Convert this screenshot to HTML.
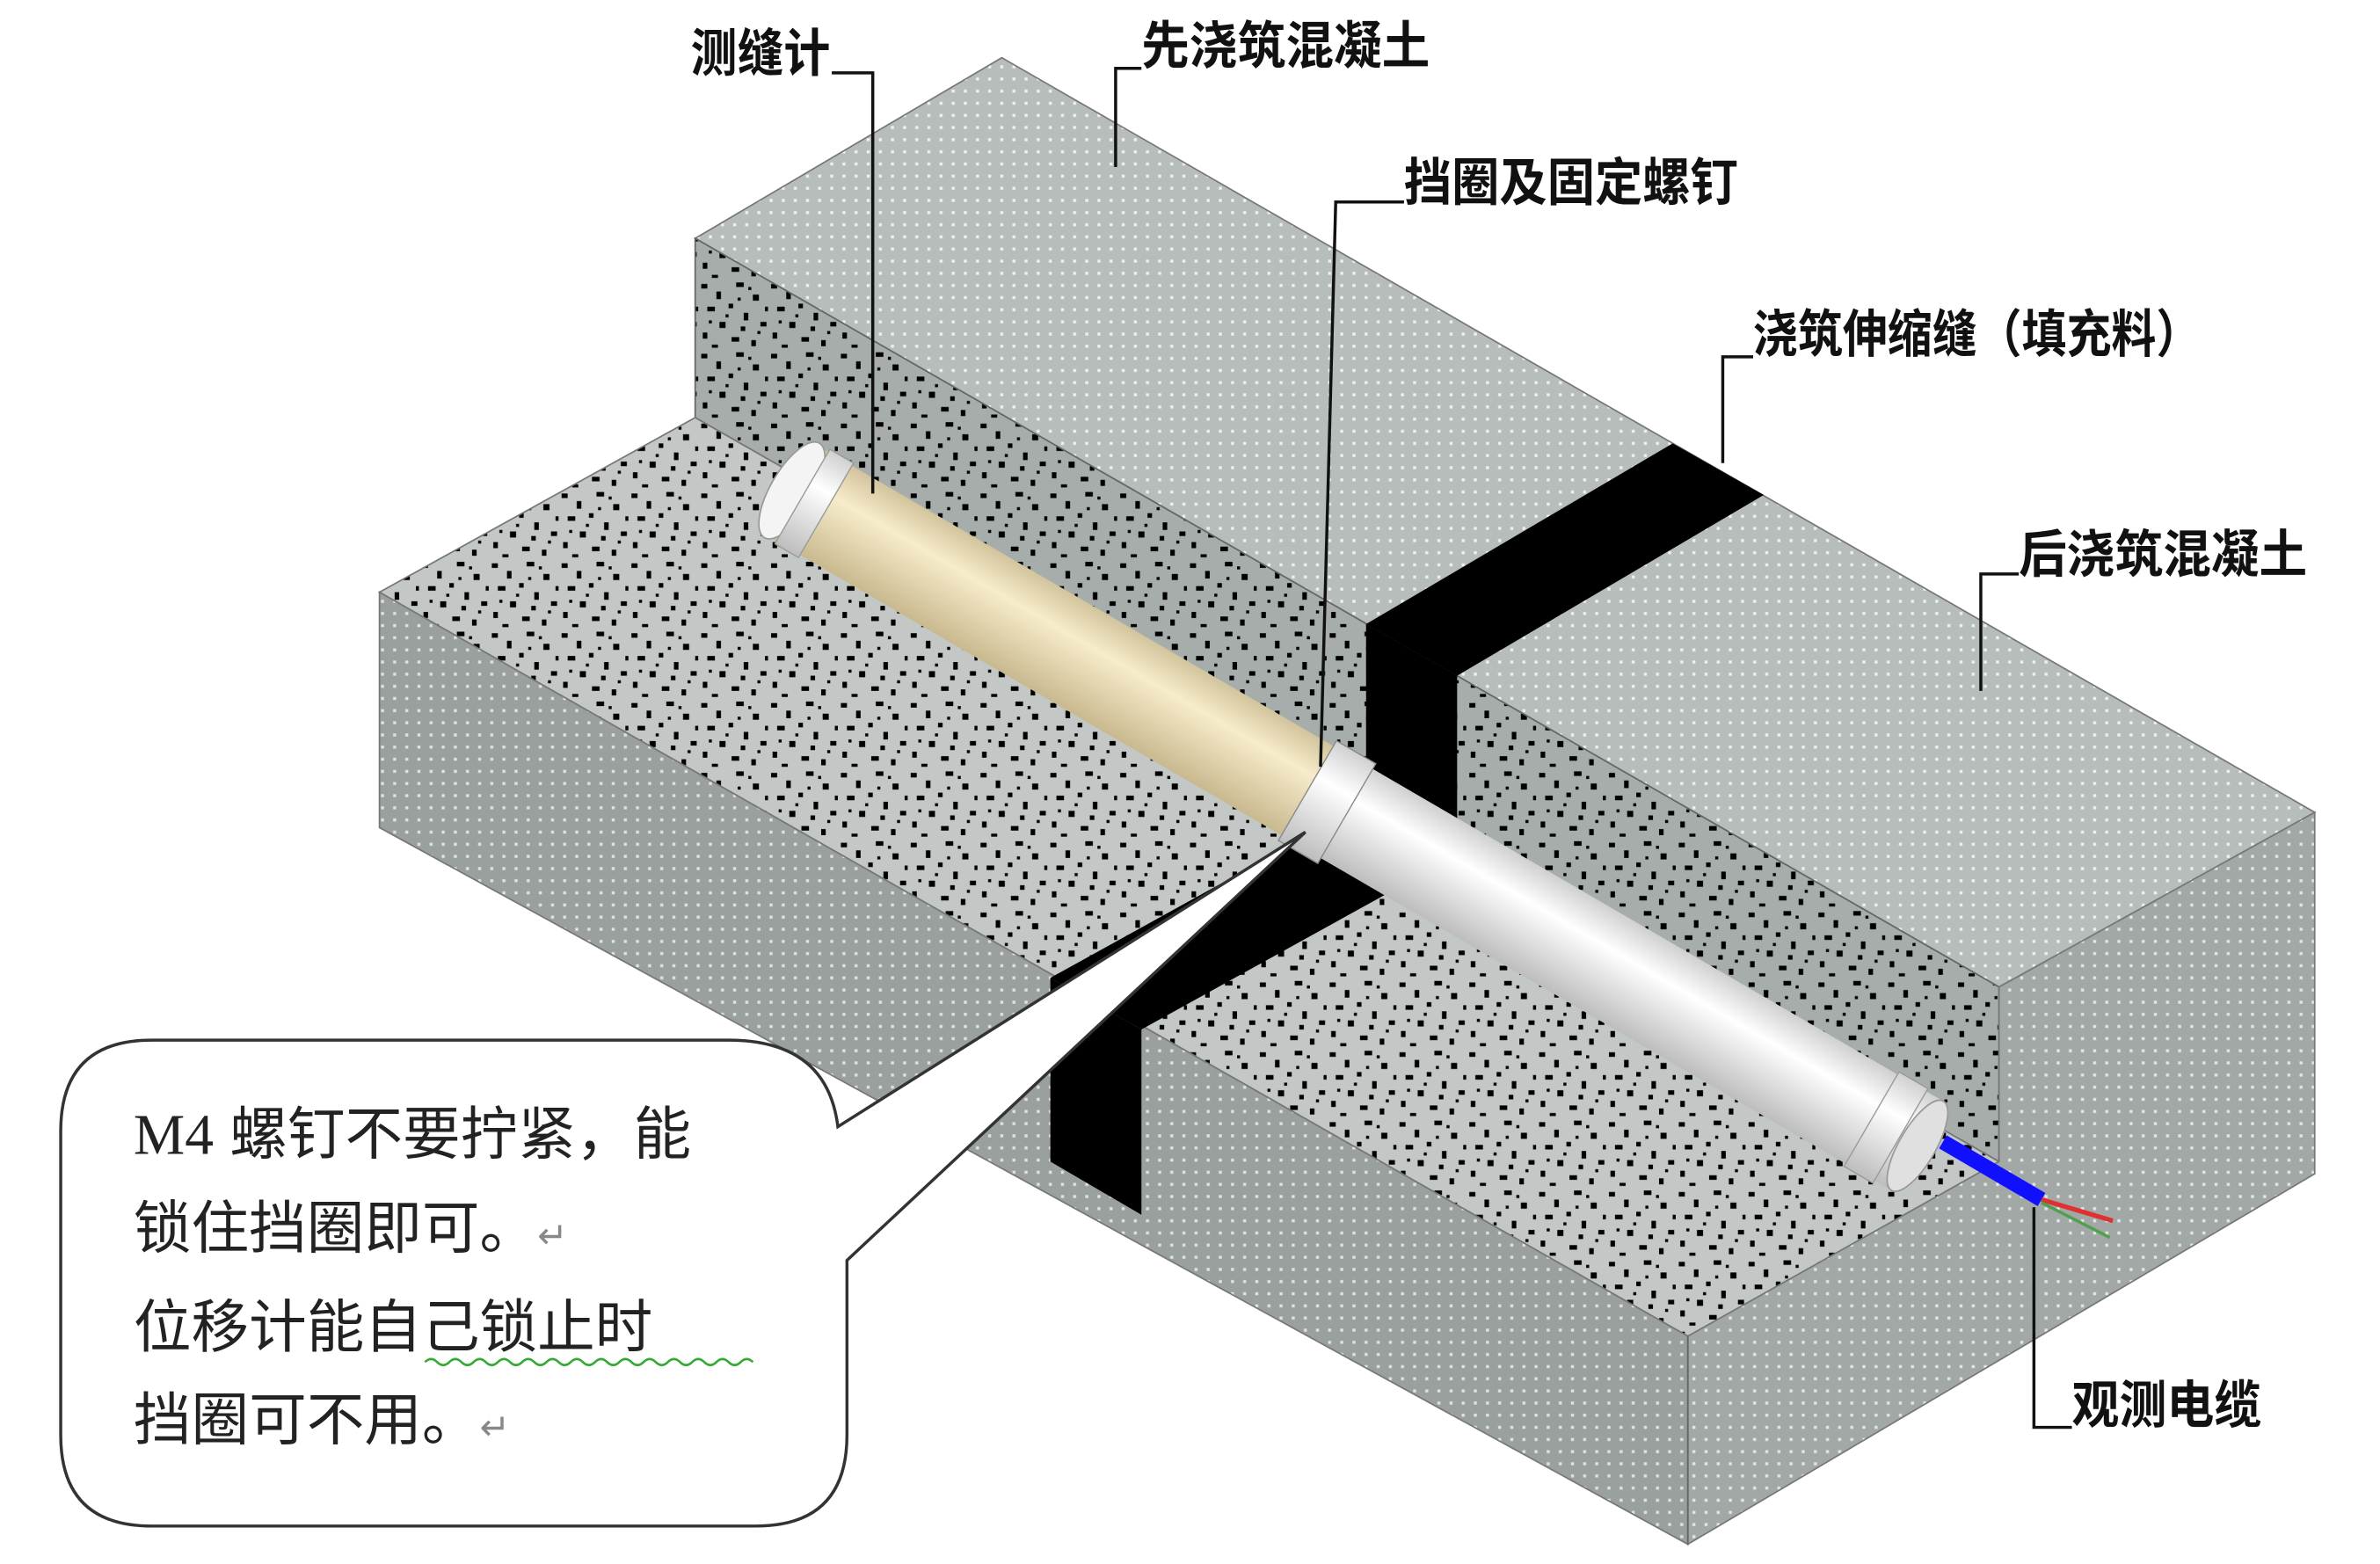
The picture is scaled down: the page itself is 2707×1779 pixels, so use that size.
<!DOCTYPE html>
<html><head><meta charset="utf-8"><style>
html,body{margin:0;padding:0;background:#fff;}
svg{display:block;}
text{font-family:"Liberation Sans","Noto Sans CJK SC",sans-serif;}
</style></head><body>
<svg width="2707" height="1779" viewBox="0 0 1568 1030" preserveAspectRatio="none" xmlns="http://www.w3.org/2000/svg">
<defs>
<pattern id="dotA" width="8" height="8" patternUnits="userSpaceOnUse">
<rect width="8" height="8" fill="#b7bdbb"/><rect x="3" y="3" width="2" height="2" fill="#eef0ef"/></pattern>
<pattern id="dotB" width="8" height="8" patternUnits="userSpaceOnUse">
<rect width="8" height="8" fill="#9aa09e"/><rect x="3" y="3" width="2" height="2" fill="#dfe2e1"/></pattern>
<pattern id="dotC" width="8" height="8" patternUnits="userSpaceOnUse">
<rect width="8" height="8" fill="#a2a8a6"/><rect x="3" y="3" width="2" height="2" fill="#e2e5e4"/></pattern>
<g id="specks">
<rect x="2" y="3" width="4" height="3"/><rect x="12" y="8" width="3" height="5"/>
<rect x="25" y="2" width="5" height="3"/><rect x="36" y="10" width="4" height="4"/>
<rect x="6" y="18" width="5" height="3"/><rect x="20" y="16" width="3" height="3"/>
<rect x="30" y="22" width="3" height="5"/><rect x="41" y="28" width="4" height="3"/>
<rect x="14" y="28" width="4" height="4"/><rect x="3" y="35" width="3" height="4"/>
<rect x="22" y="38" width="5" height="3"/><rect x="35" y="40" width="3" height="4"/>
<rect x="9" y="43" width="4" height="2"/><rect x="28" y="31" width="3" height="3"/>
<rect x="18" y="23" width="2" height="2"/><rect x="33" y="5" width="2" height="2"/>
<rect x="44" y="18" width="2" height="3"/><rect x="7" y="27" width="2" height="2"/>
<rect x="26" y="12" width="2" height="2"/><rect x="39" y="34" width="2" height="2"/>
</g>
<pattern id="spk" width="46" height="46" patternUnits="userSpaceOnUse">
<rect width="46" height="46" fill="#c3c7c5"/><use href="#specks" fill="#000"/></pattern>
<pattern id="spk2" width="46" height="46" patternUnits="userSpaceOnUse">
<rect width="46" height="46" fill="#a7adab"/><use href="#specks" fill="#000"/></pattern>
<linearGradient id="beige" x1="0" y1="0" x2="0" y2="1">
<stop offset="0" stop-color="#d2c49c"/><stop offset="0.35" stop-color="#f7eccb"/><stop offset="1" stop-color="#c9b98f"/></linearGradient>
<linearGradient id="white" x1="0" y1="0" x2="0" y2="1">
<stop offset="0" stop-color="#d0d0d0"/><stop offset="0.35" stop-color="#ffffff"/><stop offset="1" stop-color="#bdbdbd"/></linearGradient>
</defs>

<rect width="1568" height="1030" fill="#fff"/>
<polygon points="458,157 660,38 1525,535 1317,650" fill="url(#dotA)" stroke="#777" stroke-width="1"/>
<polygon points="458,157 1317,650 1317,765 458,275" fill="url(#spk2)" stroke="#666" stroke-width="1"/>
<polygon points="250,390 458,275 1317,765 1112,880" fill="url(#spk)" stroke="#777" stroke-width="1"/>
<polygon points="250,390 1112,880 1112,1017 250,545" fill="url(#dotB)" stroke="#777" stroke-width="1"/>
<polygon points="1112,880 1317,765 1317,650 1525,535 1525,773 1112,1017" fill="url(#dotC)" stroke="#777" stroke-width="1"/>
<line x1="1112" y1="880" x2="1112" y2="1017" stroke="#666"/>
<polygon points="900,411 1102,292 1162,326 960,445" fill="#000"/>
<polygon points="900,411 960,445 960,563 900,529" fill="#000"/>
<polygon points="900,529 960,563 752,678 692,644" fill="#000"/>
<polygon points="692,644 752,678 752,800 692,765" fill="#000"/>

<g transform="translate(520,322) rotate(30.2)">
<rect x="0" y="-34" width="410" height="68" fill="url(#beige)"/>
<ellipse cx="2" cy="0" rx="14" ry="36" fill="#f4f4f4" stroke="#999"/>
<rect x="10" y="-36" width="18" height="72" fill="url(#white)" stroke="#999" stroke-width="0.8"/>
<rect x="410" y="-34" width="450" height="68" fill="url(#white)"/>
<rect x="395" y="-38" width="30" height="76" fill="url(#white)" stroke="#888" stroke-width="0.8"/>
<rect x="825" y="-36" width="22" height="72" fill="url(#white)" stroke="#999" stroke-width="0.8"/>
<ellipse cx="860" cy="0" rx="12" ry="34" fill="#e0e0e0" stroke="#999"/>
</g>
<line x1="1280" y1="752" x2="1345" y2="790" stroke="#1010ff" stroke-width="10"/>
<line x1="1345" y1="790" x2="1392" y2="804" stroke="#e03030" stroke-width="3"/>
<line x1="1345" y1="792" x2="1390" y2="815" stroke="#50a050" stroke-width="2"/>

<path d="M100,685 L480,685 Q545,685 552,742 L860,548 L558,830 L558,945 Q558,1005 498,1005 L100,1005 Q40,1005 40,945 L40,745 Q40,685 100,685 Z" fill="#fff" stroke="#333" stroke-width="2"/>
<g font-size="38" fill="#222">
<text x="88" y="760"><tspan font-family="Liberation Serif">M4</tspan> 螺钉不要拧紧，能</text>
<text x="88" y="822">锁住挡圈即可。<tspan font-size="24" fill="#888">↵</tspan></text>
<text x="88" y="887">位移计能自己锁止时</text>
<text x="88" y="948">挡圈可不用。<tspan font-size="24" fill="#888">↵</tspan></text>
</g>
<path d="M280,897 q4,-4 8,0 t8,0 t8,0 t8,0 t8,0 t8,0 t8,0 t8,0 t8,0 t8,0 t8,0 t8,0 t8,0 t8,0 t8,0 t8,0 t8,0 t8,0 t8,0 t8,0 t8,0 t8,0 t8,0 t8,0 t8,0 t8,0 t8,0" fill="none" stroke="#3a3" stroke-width="1.5"/>

<g stroke="#111" stroke-width="2" fill="none">
<polyline points="548,48 575,48 575,325"/>
<polyline points="752,45 735,45 735,110"/>
<polyline points="925,133 880,133 870,505"/>
<polyline points="1155,235 1135,235 1135,305"/>
<polyline points="1330,378 1305,378 1305,455"/>
<polyline points="1340,795 1340,940 1365,940"/>
</g>
<g font-size="34" fill="#111" font-weight="bold">
<text x="455" y="47" textLength="92" lengthAdjust="spacingAndGlyphs">测缝计</text>
<text x="752" y="42" textLength="190" lengthAdjust="spacingAndGlyphs">先浇筑混凝土</text>
<text x="925" y="132" textLength="220" lengthAdjust="spacingAndGlyphs">挡圈及固定螺钉</text>
<text x="1155" y="232" textLength="295" lengthAdjust="spacingAndGlyphs">浇筑伸缩缝（填充料）</text>
<text x="1330" y="377" textLength="190" lengthAdjust="spacingAndGlyphs">后浇筑混凝土</text>
<text x="1365" y="937" textLength="125" lengthAdjust="spacingAndGlyphs">观测电缆</text>
</g>
</svg>
</body></html>
